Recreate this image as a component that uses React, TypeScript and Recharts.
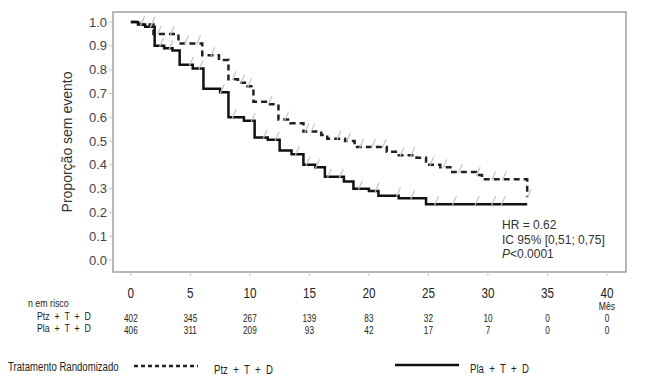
import React from 'react';
import { ComposedChart, Line, Scatter, XAxis, YAxis, ReferenceArea } from 'recharts';

// Kaplan-Meier steps (month, proportion without event)
const ptzTime = [0, 0.8, 1.9, 4.0, 6.0, 7.4, 8.2, 9.0, 9.8, 10.3, 11.5, 12.4, 13.4, 14.5, 16.0, 16.5, 18.0, 18.8, 21.5, 22.5, 24.0, 24.8, 26.0, 27.0, 29.0, 29.5, 33.3];
const ptzSurv = [1.0, 0.99, 0.95, 0.91, 0.86, 0.84, 0.76, 0.745, 0.73, 0.665, 0.655, 0.59, 0.575, 0.54, 0.525, 0.51, 0.5, 0.475, 0.455, 0.44, 0.43, 0.4, 0.39, 0.37, 0.357, 0.34, 0.265];
const plaTime = [0, 0.6, 1.2, 2.0, 2.8, 3.5, 4.1, 5.2, 6.1, 7.5, 8.2, 9.5, 10.4, 11.5, 12.5, 13.5, 14.5, 15.5, 16.3, 17.9, 18.7, 20.0, 20.8, 22.5, 24.8, 33.3];
const plaSurv = [1.0, 0.99, 0.98, 0.9, 0.89, 0.88, 0.82, 0.805, 0.72, 0.705, 0.6, 0.585, 0.515, 0.505, 0.46, 0.445, 0.4, 0.39, 0.35, 0.33, 0.3, 0.29, 0.27, 0.26, 0.235, 0.235];

// censored observations (months)
const ptzCensor = [0.9, 1.8, 2.3, 3.4, 4.6, 5.6, 6.8, 8.6, 9.3, 9.9, 11.6, 13.0, 14.7, 15.2, 17.4, 18.2, 19.3, 20.3, 21.2, 22.7, 23.6, 25.2, 26.3, 27.6, 29.1, 30.4, 31.3, 33.4];
const plaCensor = [0.9, 1.7, 2.5, 3.3, 5.0, 5.8, 7.6, 8.6, 10.2, 11.2, 12.2, 13.9, 14.8, 15.6, 16.6, 17.6, 19.2, 20.6, 22.4, 23.6, 25.6, 27.1, 29.0, 30.4, 31.2];

const months = [0, 5, 10, 15, 20, 25, 30, 35, 40];
const atRiskPtz = [402, 345, 267, 139, 83, 32, 10, 0, 0];
const atRiskPla = [406, 311, 209, 93, 42, 17, 7, 0, 0];
const yTicks = [0, 0.1, 0.2, 0.3, 0.4, 0.5, 0.6, 0.7, 0.8, 0.9, 1.0];

const sans = "'Liberation Sans', Arial, sans-serif";

const ptzData = ptzTime.map((t, i) => ({ t, s: ptzSurv[i] }));
const plaData = plaTime.map((t, i) => ({ t, s: plaSurv[i] }));

const survAt = (times: number[], surv: number[], t: number) => {
    let v = surv[0];
    for (let i = 0; i < times.length; i++) if (times[i] <= t) v = surv[i];
    return v;
};
const ptzMarks = ptzCensor.map(t => ({ t, s: survAt(ptzTime, ptzSurv, t) }));
const plaMarks = plaCensor.map(t => ({ t, s: survAt(plaTime, plaSurv, t) }));

const CensorMark = (props: any) => {
    const { cx, cy } = props;
    return <line x1={cx - 1} y1={cy + 1} x2={cx + 3} y2={cy - 8} stroke="#c4c4c4" strokeWidth={1.2} />;
};

// narrow text, squeezed horizontally around its anchor
const NText = ({ x, y, size, children }: any) => (
    <text transform={`translate(${x},${y}) scale(0.78,1)`} textAnchor="middle" fontSize={size} fontFamily={sans} fill="#222">{children}</text>
);

const MonthTick = (props: any) => {
    const { x, y, payload } = props;
    const i = months.indexOf(payload.value);
    return (
        <g>
            <NText x={x} y={y + 20} size={15}>{payload.value}</NText>
            {payload.value === 40 && <NText x={x} y={y + 32} size={11}>Mês</NText>}
            <NText x={x} y={y + 44} size={10.5}>{atRiskPtz[i]}</NText>
            <NText x={x} y={y + 56} size={10.5}>{atRiskPla[i]}</NText>
        </g>
    );
};

const squeeze: React.CSSProperties = { position: 'absolute', whiteSpace: 'pre', transform: 'scaleX(0.8)', transformOrigin: 'left top' };

export default function App() {
    return (
        <div style={{ position: 'absolute', left: 0, top: 0, width: 664, height: 385, background: '#fff' }}>
            <ComposedChart width={664} height={385} margin={{ top: 12, right: 38, left: 0, bottom: 83 }}>
                <XAxis
                    dataKey="t"
                    type="number"
                    domain={[-1.5, 41.6]}
                    ticks={months}
                    allowDataOverflow
                    height={30}
                    tickSize={4}
                    tickLine={{ stroke: '#c8c8c8' }}
                    axisLine={false}
                    tick={<MonthTick />}
                />
                <YAxis
                    type="number"
                    domain={[-0.05, 1.042]}
                    ticks={yTicks}
                    allowDataOverflow
                    width={113}
                    tickSize={4}
                    tickLine={{ stroke: '#c8c8c8' }}
                    axisLine={false}
                    tickFormatter={(v) => v.toFixed(1)}
                    tick={{ fontSize: 13, fill: '#444', fontFamily: sans }}
                />
                <ReferenceArea x1={-1.5} x2={41.6} y1={-0.05} y2={1.042} fill="none" stroke="#a0a0a0" strokeWidth={1.5} ifOverflow="visible" />
                <Scatter data={ptzMarks} dataKey="s" shape={<CensorMark />} isAnimationActive={false} />
                <Scatter data={plaMarks} dataKey="s" shape={<CensorMark />} isAnimationActive={false} />
                <Line data={ptzData} dataKey="s" type="stepAfter" stroke="#222" strokeWidth={2.5} strokeDasharray="6 4" dot={false} isAnimationActive={false} />
                <Line data={plaData} dataKey="s" type="stepAfter" stroke="#111" strokeWidth={2.5} dot={false} isAnimationActive={false} />
            </ComposedChart>
            <div style={{ position: 'absolute', left: 67, top: 142, transform: 'translate(-50%, -50%) rotate(-90deg)', whiteSpace: 'nowrap', fontFamily: sans, fontSize: 14, color: '#333' }}>
                Proporção sem evento
            </div>
            <div style={{ position: 'absolute', left: 502, top: 218, fontFamily: sans, fontSize: 12, color: '#333', lineHeight: '14.5px', whiteSpace: 'nowrap' }}>
                <div>HR = 0.62</div>
                <div>IC 95% [0,51; 0,75]</div>
                <div><i>P</i>&lt;0.0001</div>
            </div>
            <div style={{ position: 'absolute', left: 0, top: 297, fontFamily: sans, fontSize: 11, color: '#222', lineHeight: '12px' }}>
                <div style={{ ...squeeze, left: 28, top: 0 }}>n em risco</div>
                <div style={{ ...squeeze, left: 37, top: 13 }}>Ptz  +  T  +  D</div>
                <div style={{ ...squeeze, left: 37, top: 25 }}>Pla  +  T  +  D</div>
            </div>
            <div style={{ position: 'absolute', left: 0, top: 358, width: 664, height: 20, fontFamily: sans, fontSize: 12, color: '#222', lineHeight: '14px' }}>
                <span style={{ ...squeeze, left: 8, top: 2 }}>Tratamento Randomizado</span>
                <svg style={{ position: 'absolute', left: 134, top: 0 }} width={64} height={20}>
                    <line x1={0} y1={8} x2={64} y2={8} stroke="#222" strokeWidth={2.5} strokeDasharray="4 3" />
                </svg>
                <span style={{ ...squeeze, left: 214, top: 5 }}>Ptz  +  T  +  D</span>
                <svg style={{ position: 'absolute', left: 395, top: 0 }} width={64} height={20}>
                    <line x1={0} y1={7} x2={64} y2={7} stroke="#111" strokeWidth={2.5} />
                </svg>
                <span style={{ ...squeeze, left: 470, top: 4 }}>Pla  +  T  +  D</span>
            </div>
        </div>
    );
}
